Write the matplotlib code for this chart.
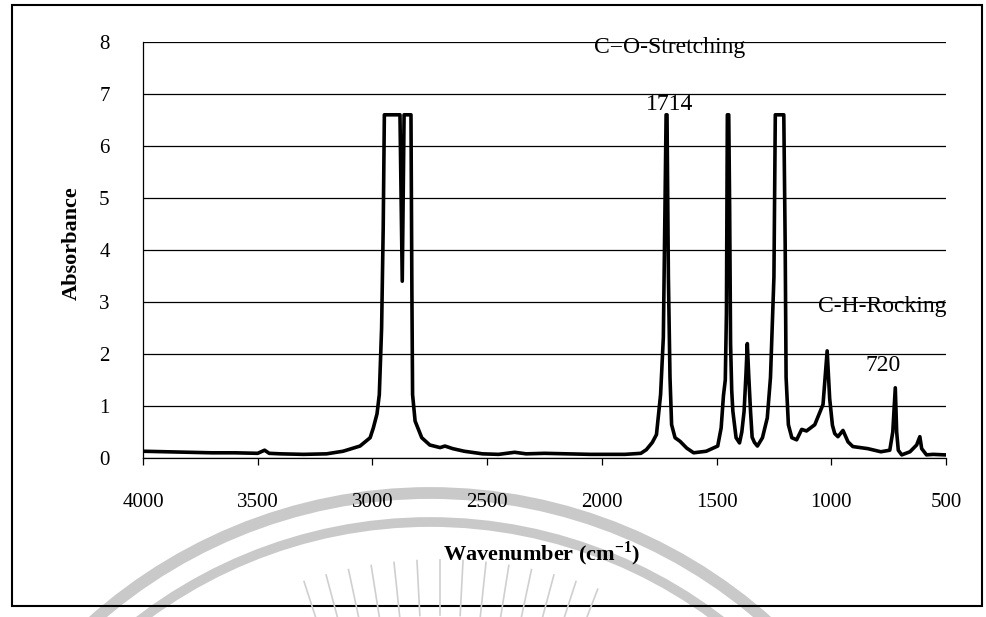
import numpy as np
import matplotlib
matplotlib.use("Agg")
from matplotlib import pyplot as plt
from matplotlib.patches import Circle, Rectangle

plt.rcParams["font.family"] = ["Liberation Serif", "DejaVu Serif"]
plt.rcParams["mathtext.fontset"] = "custom"
plt.rcParams["mathtext.rm"] = "Liberation Serif:bold"
plt.rcParams["mathtext.bf"] = "Liberation Serif:bold"

# FTIR spectrum (wavenumber in cm-1, absorbance)
wavenumber = [4000, 3900, 3800, 3700, 3600, 3500, 3470, 3450, 3400, 3300, 3200,
              3128, 3054, 3010, 2996, 2980, 2970, 2960, 2953, 2948, 2880, 2870,
              2862, 2832, 2828, 2825, 2814, 2785, 2750, 2705, 2684, 2650, 2600,
              2520, 2450, 2380, 2330, 2250, 2150, 2050, 1900, 1830, 1806, 1780,
              1762, 1744, 1732, 1725, 1720, 1716, 1710, 1703, 1696, 1681, 1659,
              1630, 1600, 1545, 1495, 1480, 1470, 1462, 1457, 1453, 1447, 1443,
              1439, 1434, 1429, 1415, 1400, 1390, 1380, 1372, 1366, 1360, 1352,
              1345, 1335, 1322, 1300, 1279, 1265, 1250, 1244, 1207, 1201, 1197,
              1187, 1172, 1151, 1129, 1108, 1072, 1036, 1018, 1007, 995, 985,
              971, 949, 927, 906, 841, 784, 745, 732, 721, 715, 708, 693, 657,
              628, 614, 606, 585, 556, 505, 500]
absorbance = [0.13, 0.12, 0.11, 0.10, 0.10, 0.09, 0.15, 0.09, 0.08, 0.07, 0.08,
              0.13, 0.23, 0.39, 0.58, 0.85, 1.22, 2.5, 4.43, 6.6, 6.6, 3.4,
              6.6, 6.6, 3.2, 1.22, 0.71, 0.39, 0.25, 0.2, 0.23, 0.18, 0.13,
              0.08, 0.07, 0.11, 0.08, 0.09, 0.08, 0.07, 0.07, 0.09, 0.16, 0.3,
              0.45, 1.22, 2.32, 4.77, 6.6, 6.6, 3.48, 1.55, 0.64, 0.39, 0.32,
              0.19, 0.1, 0.13, 0.23, 0.58, 1.2, 1.5, 2.8, 6.6, 6.6, 4.8,
              2.2, 1.3, 0.9, 0.39, 0.29, 0.5, 0.9, 1.6, 2.2, 1.6, 0.9,
              0.4, 0.3, 0.23, 0.39, 0.77, 1.55, 3.48, 6.6, 6.6, 4.13, 1.55,
              0.64, 0.39, 0.35, 0.55, 0.52, 0.64, 1.03, 2.06, 1.14, 0.63, 0.47,
              0.41, 0.53, 0.31, 0.22, 0.18, 0.12, 0.15, 0.5, 1.35, 0.5, 0.15, 0.06, 0.12,
              0.25, 0.41, 0.18, 0.06, 0.07, 0.06, 0.06]

x_ticks = [4000, 3500, 3000, 2500, 2000, 1500, 1000, 500]
y_ticks = [0, 1, 2, 3, 4, 5, 6, 7, 8]

notes = ["C=O-Stretching", "1714", "C-H-Rocking", "720"]
note_x = [1706, 1706, 776, 772]
note_y = [7.9, 6.79, 2.91, 1.77]

fig = plt.figure(figsize=(9.87, 6.17), dpi=100)

# faint watermark from the scanned page, in figure pixels
wm = fig.add_axes([0, 0, 1, 1])
wm.set_xlim(0, 987)
wm.set_ylim(617, 0)
wm.axis("off")
wm.add_patch(Circle((430, 1000), 507, fill=False, lw=8.5, ec="#c9c9c9"))
wm.add_patch(Circle((430, 1000), 478, fill=False, lw=7, ec="#c9c9c9"))
for ang in np.radians([-18, -15, -12, -9, -6, -3, 0, 3, 6, 9, 12, 15, 18, 21]):
    wm.plot([440 + 385 * np.sin(ang), 440 + 440 * np.sin(ang)],
            [1000 - 385 * np.cos(ang), 1000 - 440 * np.cos(ang)],
            color="#cfcfcf", lw=1.2)
wm.add_patch(Rectangle((12, 5), 970, 601, fill=False, lw=1.5, ec="black"))

ax = fig.add_axes([143 / 987, 1 - 458 / 617, 803 / 987, 416 / 617])
ax.set_facecolor("none")
ax.plot(wavenumber, absorbance, color="black", lw=2.6, solid_joinstyle="round")

ax.set_xlim(4000, 500)
ax.set_ylim(0, 8)
ax.set_xticks(x_ticks)
ax.set_yticks(y_ticks)
ax.grid(axis="y", color="black", lw=0.9)
ax.set_axisbelow(True)
for side in ["top", "right"]:
    ax.spines[side].set_visible(False)
ax.spines["left"].set_linewidth(0.9)
ax.spines["bottom"].set_linewidth(0.9)
ax.tick_params(axis="x", direction="out", length=5, width=0.9, pad=20, labelsize=15)
ax.tick_params(axis="y", length=0, pad=24, labelsize=15)

ax.set_xlabel(r"Wavenumber (cm$^{\mathbf{-1}}$)", fontsize=16, fontweight="bold")
ax.xaxis.set_label_coords(0.496, -0.195)
ax.set_ylabel("Absorbance", fontsize=16, fontweight="bold")
ax.yaxis.set_label_coords(-0.076, 0.517)

for txt, tx, ty in zip(notes, note_x, note_y):
    ax.text(tx, ty, txt, fontsize=17, ha="center", va="center")

fig.savefig("out.png", dpi=100)
